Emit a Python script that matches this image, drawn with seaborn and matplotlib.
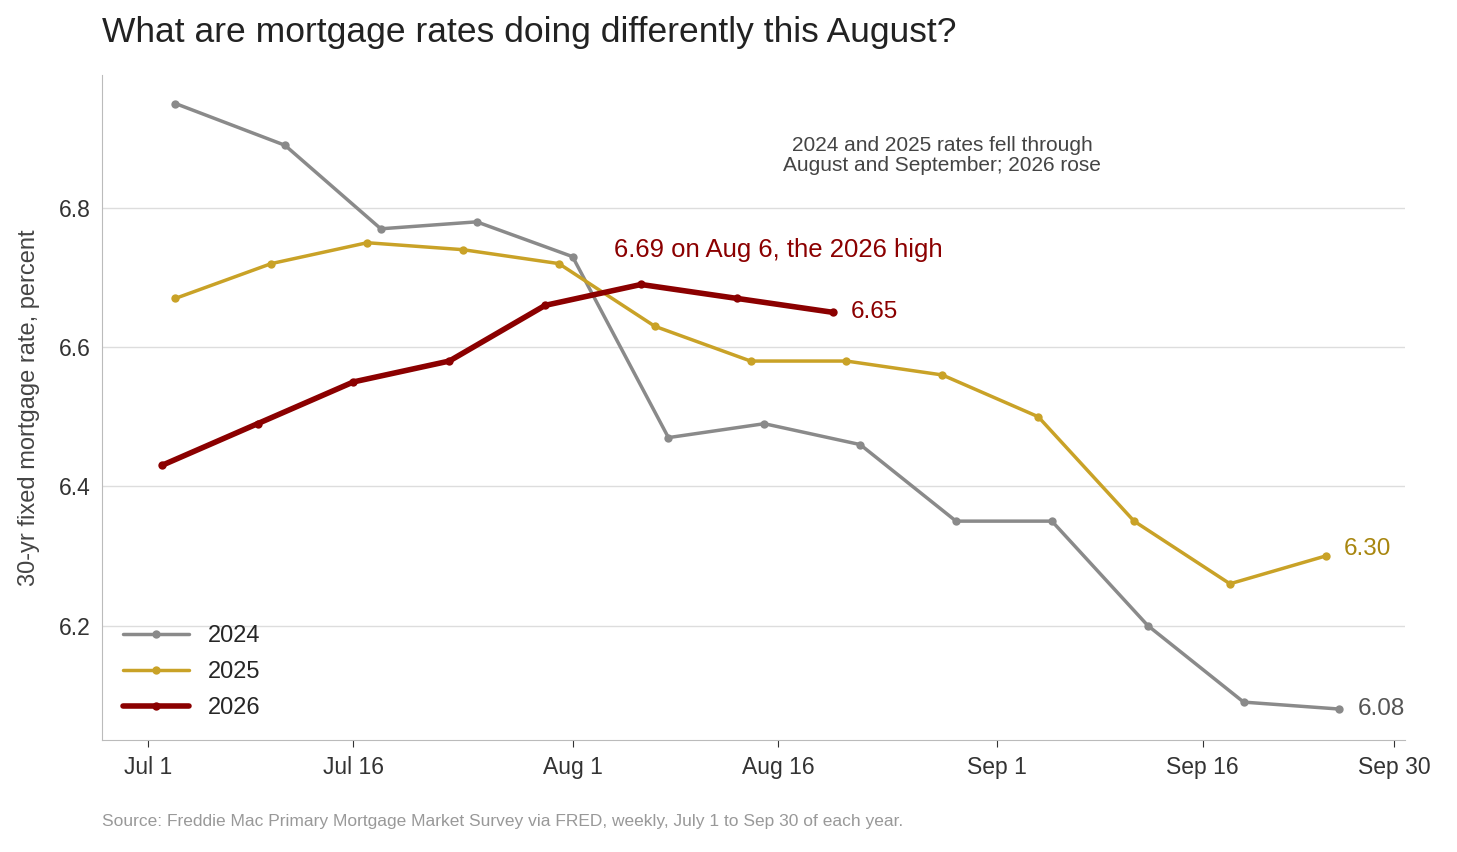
import numpy as np
import pandas as pd
import seaborn as sns
import matplotlib.pyplot as plt

# days since Jul 1
days_2024 = [2, 10, 17, 24, 31, 38, 45, 52, 59, 66, 73, 80, 87]
rate_2024 = [6.95, 6.89, 6.77, 6.78, 6.73, 6.47, 6.49, 6.46, 6.35, 6.35, 6.20, 6.09, 6.08]
days_2025 = [2, 9, 16, 23, 30, 37, 44, 51, 58, 65, 72, 79, 86]
rate_2025 = [6.67, 6.72, 6.75, 6.74, 6.72, 6.63, 6.58, 6.58, 6.56, 6.50, 6.35, 6.26, 6.30]
days_2026 = [1, 8, 15, 22, 29, 36, 43, 50]
rate_2026 = [6.43, 6.49, 6.55, 6.58, 6.66, 6.69, 6.67, 6.65]

tick_days = [0, 15, 31, 46, 62, 77, 91]
tick_labels = ["Jul 1", "Jul 16", "Aug 1", "Aug 16", "Sep 1", "Sep 16", "Sep 30"]

df = pd.concat([
    pd.DataFrame({"day": days_2024, "rate": rate_2024, "year": "2024"}),
    pd.DataFrame({"day": days_2025, "rate": rate_2025, "year": "2025"}),
    pd.DataFrame({"day": days_2026, "rate": rate_2026, "year": "2026"}),
])

sns.set_style("white")
plt.rcParams['font.family'] = ['Liberation Sans', 'DejaVu Sans']

colors = {"2024": "#8a8a8a", "2025": "#c9a227", "2026": "#8b0000"}
fig, ax = plt.subplots(figsize=(14.57, 8.52), dpi=100)
fig.subplots_adjust(left=0.07, right=0.964, top=0.912, bottom=0.131)

sns.lineplot(data=df, x="day", y="rate", hue="year", palette=colors, marker="o",
             markersize=6, markeredgewidth=0, ax=ax, size="year",
             sizes={"2024": 2.5, "2025": 2.5, "2026": 4})

ax.set_xlim(-3.36, 91.75)
ax.set_ylim(6.035, 6.991)
ax.set_yticks([6.2, 6.4, 6.6, 6.8])
ax.set_yticklabels(["6.2", "6.4", "6.6", "6.8"])
ax.set_xticks(tick_days)
ax.set_xticklabels(tick_labels)
ax.tick_params(axis="both", labelsize=16.5, colors="#333333", length=5, bottom=True)
ax.tick_params(axis="y", length=0, pad=8)
ax.tick_params(axis="x", pad=6)
ax.grid(axis="y", color="#dddddd", linewidth=1)
ax.set_axisbelow(True)
for s in ["top", "right"]:
    ax.spines[s].set_visible(False)
for s in ["left", "bottom"]:
    ax.spines[s].set_color("#bbbbbb")
ax.set_xlabel("")
ax.set_ylabel("30-yr fixed mortgage rate, percent", fontsize=17, color="#444444", labelpad=14)

handles, labels = ax.get_legend_handles_labels()
leg = ax.legend(handles=handles[-3:] if len(handles) > 3 else handles, labels=["2024", "2025", "2026"],
                loc="lower left", frameon=False, fontsize=17, handlelength=2.8,
                labelspacing=0.6, bbox_to_anchor=(0.0, 0.0))

ax.text(days_2026[-1] + 1.3, rate_2026[-1], "6.65", color="#8b0000", fontsize=17.5, va="center")
ax.text(days_2025[-1] + 1.3, rate_2025[-1] + 0.01, "6.30", color="#a8860f", fontsize=17.5, va="center")
ax.text(days_2024[-1] + 1.3, rate_2024[-1], "6.08", color="#555555", fontsize=17.5, va="center")
ax.text(34, 6.74, "6.69 on Aug 6, the 2026 high", color="#8b0000", fontsize=18.5, va="center")
ax.text(58, 6.875, "2024 and 2025 rates fell through\nAugust and September; 2026 rose",
        color="#444444", fontsize=15, ha="center", va="center", linespacing=1.05)

fig.text(0.07, 0.962, "What are mortgage rates doing differently this August?",
         fontsize=25.5, color="#222222", va="center")
fig.text(0.07, 0.03, "Source: Freddie Mac Primary Mortgage Market Survey via FRED, weekly, July 1 to Sep 30 of each year.",
         fontsize=12.5, color="#999999")

fig.savefig("out.png", dpi=100)
